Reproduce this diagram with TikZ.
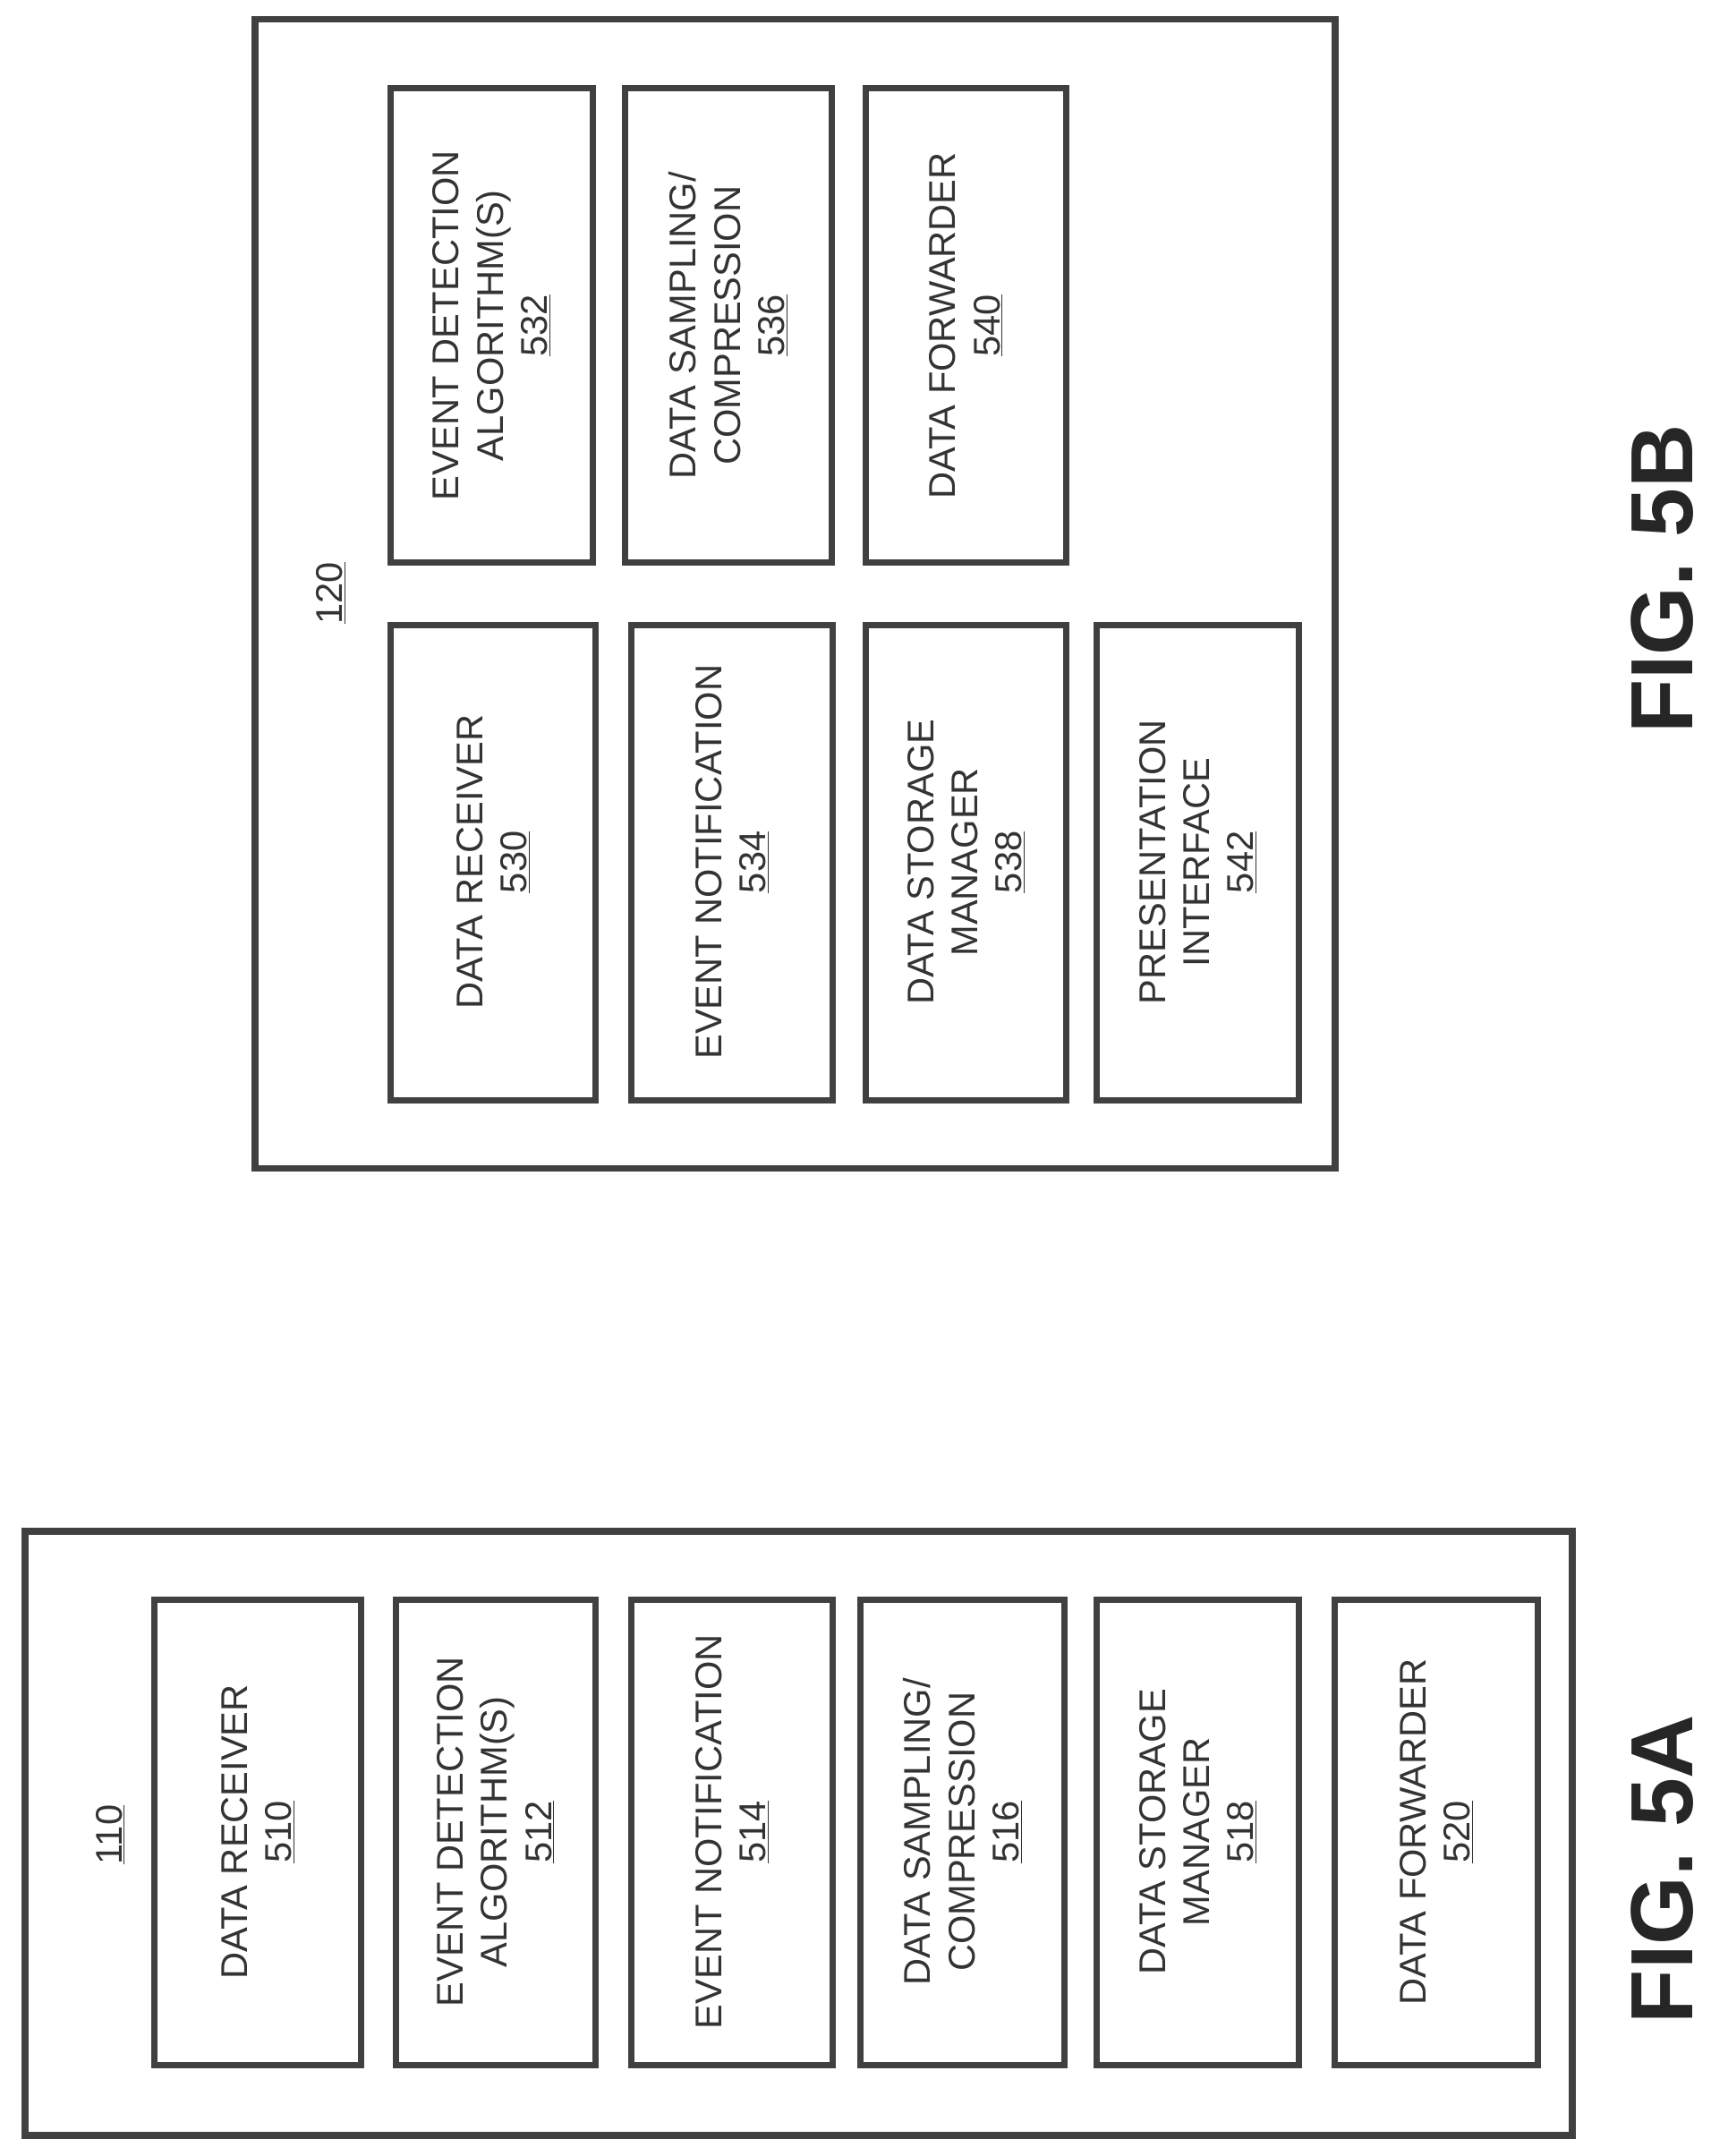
\documentclass[tikz,border=0pt]{standalone}
\usepackage{fontspec}
\setmainfont{Liberation Sans}
\begin{document}
\begin{tikzpicture}[x=1pt,y=-1pt,
  frame/.style={draw=black!75,line width=5pt},
  box/.style={frame,line width=4.5pt},
  txt/.style={rotate=90,align=center,font=\fontsize{27}{32}\selectfont,text=black!80},
  fig/.style={rotate=90,font=\fontsize{64}{72}\selectfont\bfseries,text=black!85}]
\useasboundingbox (0,0) rectangle (1240,1563);
% FIG 5A
\draw[frame] (18,1110) rectangle (1140,1548);
\node[txt] (l110) at (80,1330) {\underline{110}};
\foreach \n/\xa/\xb/\t in {
 510/112/262/{DATA RECEIVER\\\underline{510}},
 512/287/432/{EVENT DETECTION\\ALGORITHM(S)\\\underline{512}},
 514/458/604/{EVENT NOTIFICATION\\\underline{514}},
 516/624/772/{DATA SAMPLING/\\COMPRESSION\\\underline{516}},
 518/795/942/{DATA STORAGE\\MANAGER\\\underline{518}},
 520/968/1115/{DATA FORWARDER\\\underline{520}}}{
  \draw[box] (\xa,1160) rectangle (\xb,1497);
  \node[txt] (b\n) at ({(\xa+\xb)/2},1328) {\t};
}
\node[fig] (f5a) at (1205,1355) {FIG. 5A};
% FIG 5B
\draw[frame] (185,14) rectangle (968,847);
\node[txt] (l120) at (240,430) {\underline{120}};
\foreach \n/\xa/\xb/\t in {
 532/283/430/{EVENT DETECTION\\ALGORITHM(S)\\\underline{532}},
 536/453/603/{DATA SAMPLING/\\COMPRESSION\\\underline{536}},
 540/628/773/{DATA FORWARDER\\\underline{540}}}{
  \draw[box] (\xa,64) rectangle (\xb,408);
  \node[txt] (b\n) at ({(\xa+\xb)/2},236) {\t};
}
\foreach \n/\xa/\xb/\t in {
 530/283/432/{DATA RECEIVER\\\underline{530}},
 534/458/604/{EVENT NOTIFICATION\\\underline{534}},
 538/628/773/{DATA STORAGE\\MANAGER\\\underline{538}},
 542/795/942/{PRESENTATION\\INTERFACE\\\underline{542}}}{
  \draw[box] (\xa,453) rectangle (\xb,798);
  \node[txt] (b\n) at ({(\xa+\xb)/2},625) {\t};
}
\node[fig] (f5b) at (1205,420) {FIG. 5B};
\end{tikzpicture}
\end{document}
